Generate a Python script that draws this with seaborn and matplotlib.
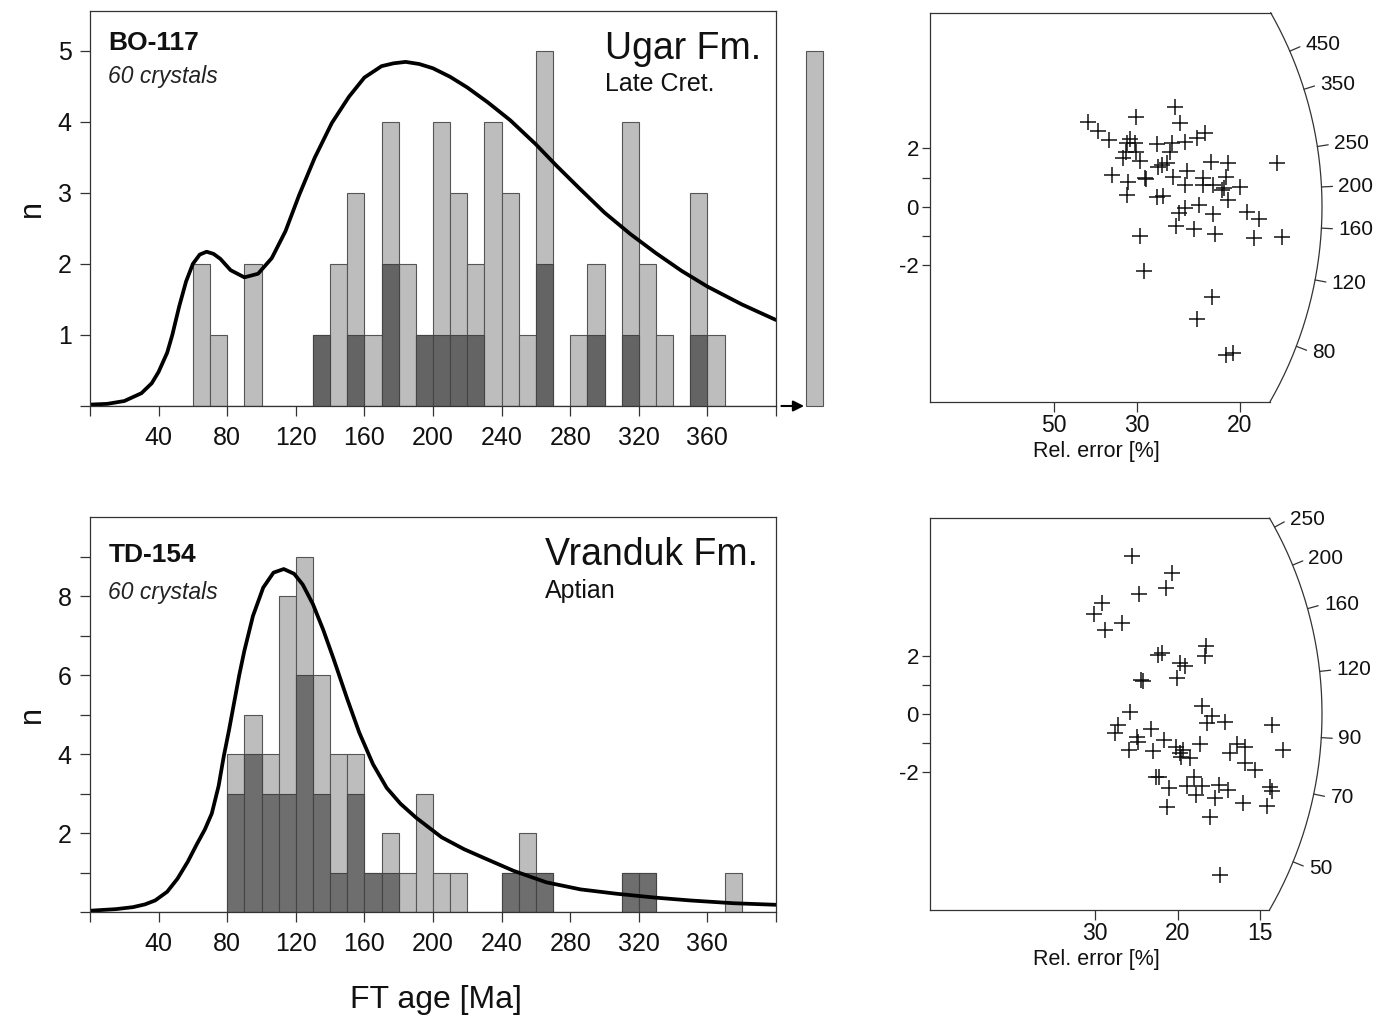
import numpy as np
import pandas as pd
import matplotlib
matplotlib.use("Agg")
import matplotlib.pyplot as plt
import seaborn as sns

# ---- histogram data: 10 Ma bins (left edge), all grains / darker subset ----
top_bins = [60, 70, 90, 130, 140, 150, 160, 170, 180, 190, 200, 210, 220, 230,
            240, 250, 260, 280, 290, 310, 320, 330, 350, 360]
top_all = [2, 1, 2, 1, 2, 3, 1, 4, 2, 1, 4, 3, 2, 4, 3, 1, 5, 1, 2, 4, 2, 1, 3, 1]
top_dark = [0, 0, 0, 1, 0, 1, 0, 2, 0, 1, 1, 1, 1, 0, 0, 0, 2, 0, 1, 1, 0, 0, 1, 0]
top_overflow = 5  # grains older than 400 Ma

bot_bins = [80, 90, 100, 110, 120, 130, 140, 150, 160, 170, 180, 190, 200, 210,
            240, 250, 260, 310, 320, 370]
bot_all = [4, 5, 4, 8, 9, 6, 4, 4, 1, 2, 1, 3, 1, 1, 1, 2, 1, 1, 1, 1]
bot_dark = [3, 4, 3, 3, 6, 3, 1, 3, 1, 1, 0, 0, 0, 0, 1, 1, 1, 1, 1, 0]

# ---- probability density curves ----
top_curve_age = [0, 10, 20, 30, 36, 40, 45, 48, 52, 56, 60, 64, 68, 72, 76, 82, 90,
                 98, 106, 114, 122, 131, 141, 151, 160, 170, 177, 184, 192, 200,
                 210, 220, 232, 245, 260, 272, 285, 300, 315, 330, 345, 360, 380, 400]
top_curve_n = [0.02, 0.03, 0.07, 0.18, 0.32, 0.48, 0.75, 1.0, 1.4, 1.75, 2.0, 2.13,
               2.17, 2.14, 2.07, 1.91, 1.81, 1.86, 2.08, 2.46, 2.97, 3.49, 3.98, 4.35,
               4.62, 4.78, 4.82, 4.84, 4.81, 4.75, 4.63, 4.48, 4.27, 4.02, 3.68, 3.38,
               3.07, 2.72, 2.42, 2.15, 1.90, 1.68, 1.43, 1.21]
bot_curve_age = [0, 15, 25, 32, 38, 45, 51, 57, 62, 67, 71, 75, 78, 81, 84, 87, 90,
                 95, 101, 107, 113, 119, 124, 130, 136, 142, 150, 157, 165, 173, 181,
                 190, 205, 218, 230, 247, 266, 286, 307, 330, 350, 375, 400]
bot_curve_n = [0.04, 0.08, 0.13, 0.2, 0.3, 0.52, 0.85, 1.28, 1.7, 2.1, 2.5, 3.2, 3.95,
               4.6, 5.3, 6.0, 6.62, 7.5, 8.22, 8.6, 8.69, 8.57, 8.3, 7.8, 7.15, 6.42,
               5.4, 4.55, 3.75, 3.15, 2.75, 2.4, 1.9, 1.6, 1.37, 1.05, 0.76, 0.58,
               0.47, 0.37, 0.3, 0.23, 0.19]

# ---- radial plots: precision (1/rel. error) and standardised estimate ----
top_px = [2.55, 2.71, 2.88, 3.33, 3.95, 4.03, 4.44, 4.31, 4.11, 3.90, 3.66, 3.18,
          3.31, 3.16, 3.33, 3.12, 3.39, 3.87, 3.74, 3.82, 4.54, 4.81, 5.60, 2.93,
          3.20, 3.47, 3.17, 3.66, 3.76, 3.92, 4.14, 4.11, 4.40, 4.41, 4.57, 4.74,
          4.78, 5.00, 4.81, 4.34, 4.11, 4.02, 4.57, 5.11, 5.30, 3.97, 4.26, 4.60,
          5.23, 5.67, 3.39, 3.45, 4.55, 4.30, 4.78, 4.88, 3.49, 3.23, 3.68, 4.71]
top_py = [2.91, 2.60, 2.28, 3.08, 3.42, 2.86, 2.53, 2.34, 2.23, 2.17, 2.15, 2.17,
          2.19, 1.88, 1.88, 1.66, 1.58, 1.88, 1.43, 1.49, 1.54, 1.49, 1.49, 1.09,
          0.86, 0.99, 0.40, 0.32, 0.37, 1.03, 1.23, 0.74, 0.97, 0.74, 0.74, 0.63,
          1.01, 0.68, 0.23, 0.06, -0.06, -0.23, -0.25, -0.17, -0.43, -0.66, -0.77,
          -0.93, -1.08, -1.03, -0.99, -2.20, -3.08, -3.86, -5.08, -5.02, 0.94, 2.31,
          1.37, 0.57]
bot_px = [4.09, 4.88, 4.77, 4.22, 3.48, 3.32, 3.87, 3.54, 4.61, 4.68, 5.58, 5.56,
          5.05, 5.15, 4.98, 4.26, 4.30, 5.49, 5.69, 5.59, 5.96, 6.90, 4.04, 3.80,
          3.74, 4.46, 4.18, 4.21, 4.03, 4.51, 4.73, 4.97, 5.12, 5.08, 5.25, 5.45,
          6.06, 6.20, 6.36, 6.36, 6.57, 7.14, 4.57, 4.63, 4.83, 5.33, 5.19, 5.49,
          5.37, 5.83, 6.03, 5.76, 4.78, 5.66, 6.32, 6.80, 6.87, 6.90, 5.86, 5.05]
bot_py = [5.41, 4.82, 4.30, 4.10, 3.81, 3.42, 3.13, 2.88, 2.02, 2.08, 2.33, 1.99,
          1.74, 1.64, 1.22, 1.16, 1.14, 0.28, -0.07, -0.30, -0.26, -0.38, 0.06,
          -0.38, -0.66, -0.52, -0.78, -0.95, -1.23, -1.26, -0.89, -1.12, -1.23,
          -1.46, -1.52, -1.03, -1.32, -1.03, -1.12, -1.69, -1.92, -1.23, -2.15,
          -2.17, -2.55, -2.17, -2.47, -2.47, -2.77, -2.43, -2.60, -2.89, -3.17,
          -3.52, -3.06, -3.15, -2.49, -2.63, -5.51, -1.35]
top_arc_ages = [450, 350, 250, 200, 160, 120, 80]
bot_arc_ages = [250, 200, 160, 120, 90, 70, 50]
top_err_ticks = [50, 30, 20]
bot_err_ticks = [30, 20, 15]
top_central = 179.7
bot_central = 99.7

sns.set_theme(style="ticks")
plt.rcParams["font.family"] = ["Liberation Sans", "DejaVu Sans"]

W, H = 1394, 1021
fig = plt.figure(figsize=(W / 100, H / 100), dpi=100)
EDGE = "#333333"


def px_axes(left, top, right, bottom):
    return fig.add_axes([left / W, 1 - bottom / H, (right - left) / W, (bottom - top) / H])


def style_frame(ax):
    for s in ax.spines.values():
        s.set_color(EDGE)
        s.set_linewidth(0.9)


def draw_hist(ax, bins, n_all, n_dark, cx, cy, ymax, ylabels, dark_col):
    df = pd.DataFrame({"age": np.array(bins) + 5.0, "all": n_all, "dark": n_dark})
    sns.histplot(data=df, x="age", weights="all", binwidth=10, binrange=(0, 400),
                 color="#bdbdbd", alpha=1, edgecolor="#555555", linewidth=0.8, ax=ax)
    sns.histplot(data=df, x="age", weights="dark", binwidth=10, binrange=(0, 400),
                 color=dark_col, alpha=1, edgecolor="#444444", linewidth=0.8, ax=ax)
    sns.lineplot(x=cx, y=cy, color="black", linewidth=2.7, ax=ax)
    ax.set_xlim(0, 400)
    ax.set_ylim(0, ymax)
    ax.set_xticks(range(0, 401, 40))
    ax.set_xticklabels([""] + [str(v) for v in range(40, 361, 40)] + [""])
    ax.set_yticks(range(len(ylabels)))
    ax.set_yticklabels(ylabels)
    ax.tick_params(axis="x", direction="out", length=7.2, width=0.9, color=EDGE,
                   labelsize=18, pad=7, labelcolor="#111111")
    ax.tick_params(axis="y", direction="out", length=7.2, width=0.9, color=EDGE,
                   labelsize=18, pad=6, labelcolor="#111111")
    ax.set_ylabel("")
    ax.set_xlabel("")
    ax.text(-0.084, 0.5, "n", transform=ax.transAxes, rotation=90, ha="center",
            va="center", fontsize=22, color="#111111")
    style_frame(ax)


def draw_radial(ax, xs, ys, xmax, ylim, err_ticks, arc_ages, central, w_px, h_px):
    ax.set_xlim(0, xmax)
    ax.set_ylim(*ylim)
    sx = w_px / xmax
    sy = h_px / (ylim[1] - ylim[0])
    sns.scatterplot(x=xs, y=ys, marker="+", s=140, color="#111111", linewidth=1.1, ax=ax)
    R = 392.0
    ph_top = np.arcsin(ylim[1] * sy / R)
    ph_bot = np.arcsin(ylim[0] * sy / R)
    ph = np.linspace(ph_bot, ph_top, 200)
    ax.plot(R * np.cos(ph) / sx, R * np.sin(ph) / sy, color=EDGE, lw=0.9, clip_on=False)
    style_frame(ax)
    ax.spines["right"].set_visible(False)
    ax.spines["top"].set_bounds(0, R * np.cos(ph_top) / sx)
    ax.spines["bottom"].set_bounds(0, R * np.cos(ph_bot) / sx)
    for t in arc_ages:
        th = np.arctan(sy / sx * np.log(t / central))
        r = np.array([R, R + 11])
        ax.plot(r * np.cos(th) / sx, r * np.sin(th) / sy, color=EDGE, lw=0.9, clip_on=False)
        ax.text((R + 17) * np.cos(th) / sx, (R + 17) * np.sin(th) / sy, str(t),
                ha="left", va="center", fontsize=15, clip_on=False, color="#111111")
    ax.set_xticks([100 / e for e in err_ticks])
    ax.set_xticklabels([str(e) for e in err_ticks])
    ax.set_yticks([-2, -1, 0, 1, 2])
    ax.set_yticklabels(["-2", "", "0", "", "2"])
    ax.tick_params(axis="x", direction="out", length=7, width=0.9, color=EDGE,
                   labelsize=16.5, pad=1.5, labelcolor="#111111")
    ax.tick_params(axis="y", direction="out", length=6, width=0.9, color=EDGE,
                   labelsize=16, pad=2, labelcolor="#111111")
    ax.set_xlabel("Rel. error [%]", fontsize=15.5, color="#111111")
    ax.xaxis.set_label_coords(0.358, -0.10)
    ax.set_ylabel("")


# top histogram
ax1 = px_axes(90, 10.7, 776, 406)
draw_hist(ax1, top_bins, top_all, top_dark, top_curve_age, top_curve_n, 5.56,
          ["", "1", "2", "3", "4", "5"], "#646464")
ax1.bar([417.5], [top_overflow], width=10, align="edge", color="#bdbdbd",
        edgecolor="#555555", linewidth=0.8, clip_on=False)
ax1.annotate("", xy=(418, 0), xytext=(401.5, 0), annotation_clip=False,
             arrowprops=dict(arrowstyle="-|>", color="black", lw=1.5, mutation_scale=16))
ax1.text(0.0267, 0.901, "BO-117", transform=ax1.transAxes, fontsize=19,
         fontweight="bold", va="baseline", color="#111111")
ax1.text(0.0267, 0.817, "60 crystals", transform=ax1.transAxes, fontsize=16.5,
         style="italic", va="baseline", color="#222222")
ax1.text(0.751, 0.878, "Ugar Fm.", transform=ax1.transAxes, fontsize=27,
         va="baseline", color="#111111")
ax1.text(0.751, 0.798, "Late Cret.", transform=ax1.transAxes, fontsize=18,
         va="baseline", color="#111111")

# bottom histogram
ax2 = px_axes(90, 517.3, 776, 912.3)
draw_hist(ax2, bot_bins, bot_all, bot_dark, bot_curve_age, bot_curve_n, 10.0,
          ["", "", "2", "", "4", "", "6", "", "8", ""], "#6e6e6e")
ax2.text(0.0267, 0.886, "TD-154", transform=ax2.transAxes, fontsize=19,
         fontweight="bold", va="baseline", color="#111111")
ax2.text(0.0267, 0.792, "60 crystals", transform=ax2.transAxes, fontsize=16.5,
         style="italic", va="baseline", color="#222222")
ax2.text(0.663, 0.879, "Vranduk Fm.", transform=ax2.transAxes, fontsize=27,
         va="baseline", color="#111111")
ax2.text(0.663, 0.795, "Aptian", transform=ax2.transAxes, fontsize=18,
         va="baseline", color="#111111")
ax2.set_xlabel("FT age [Ma]", fontsize=23, color="#111111")
ax2.xaxis.set_label_coords(0.505, -0.185)

# radial plots
ax3 = px_axes(930, 12.7, 1394, 402)
draw_radial(ax3, top_px, top_py, 464 / 62.0, (-6.688, 6.644), top_err_ticks,
            top_arc_ages, top_central, 464, 389.3)
ax4 = px_axes(930, 518, 1394, 910)
draw_radial(ax4, bot_px, bot_py, 464 / 49.5, (-6.712, 6.712), bot_err_ticks,
            bot_arc_ages, bot_central, 464, 392)

fig.savefig("out.png", dpi=100)
